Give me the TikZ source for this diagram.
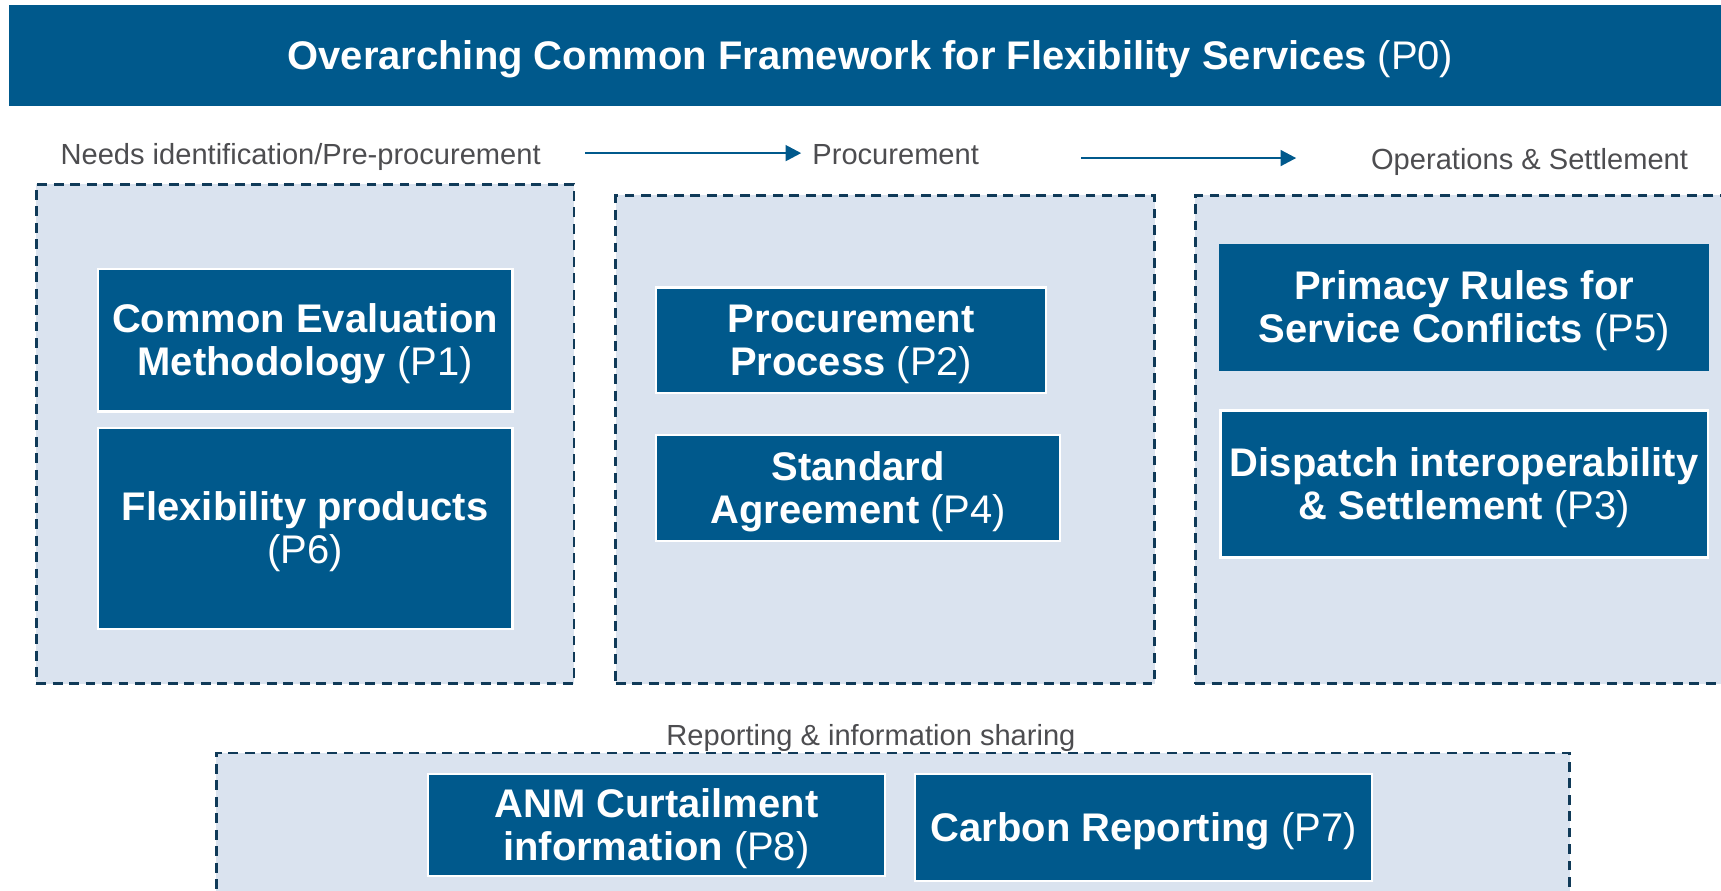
\documentclass[tikz,border=0pt]{standalone}
\usepackage{fontspec}
\setmainfont{Liberation Sans}
\usetikzlibrary{arrows.meta}
\definecolor{dkblue}{RGB}{0,89,140}
\definecolor{lightfill}{RGB}{218,227,239}
\definecolor{navyline}{RGB}{16,58,88}
\definecolor{txtgray}{RGB}{77,77,80}
\newcommand\pcode[1]{{\mdseries(#1)}}
\newcommand\topstrut{\rule{0pt}{0.9em}}
\begin{document}
\begin{tikzpicture}[x=1pt,y=-1pt,
 group/.style={draw=navyline, fill=lightfill, line width=2.5pt, dash pattern=on 9pt off 6pt, inner sep=0pt},
 pbox/.style={draw=white, fill=dkblue, line width=2pt, text=white, align=center, inner sep=0pt, font=\bfseries\fontsize{36.4}{39}\selectfont},
 phase/.style={text=txtgray, inner sep=0pt, anchor=base west, font=\fontsize{26.5}{30}\selectfont},
 flow/.style={draw=dkblue, line width=2.5pt, -{Triangle[length=14.3pt,width=14.3pt]}},
 hdr/.style={fill=dkblue, draw=none, inner sep=0pt},
 hdrtext/.style={text=white, inner sep=0pt, anchor=base, font=\bfseries\fontsize{36.4}{40}\selectfont}
]
\useasboundingbox (0,0) rectangle (1568,811);
\clip (0,0) rectangle (1568,811);

% header
\node[hdr, minimum width=1570pt, minimum height=92pt] (p0) at (793,51) {};
\node[hdrtext] (p0t) at (793,63) {Overarching Common Framework for Flexibility Services \pcode{P0}};

% phase groups
\node[group, minimum width=490pt, minimum height=455pt] (g1) at (278,395.5) {};
\node[group, minimum width=491pt, minimum height=445pt] (g2) at (806.5,400.5) {};
\node[group, minimum width=531pt, minimum height=445pt] (g3) at (1354.5,400.5) {};
\node[group, minimum width=1233pt, minimum height=194pt] (g4) at (813.5,783) {};

% phase labels
\node[phase] (ph1) at (55,149.5) {Needs identification/Pre-procurement};
\node[phase] (ph2) at (740,149.5) {Procurement};
\node[phase] (ph3) at (1249,154) {Operations \& Settlement};
\node[phase] (ph4) at (607,679) {Reporting \& information sharing};

% flow arrows
\coordinate (a1s) at (533,139.5);
\coordinate (a1e) at (730,139.5);
\coordinate (a2s) at (985,144);
\coordinate (a2e) at (1181,144);
\draw[flow] (a1s) -- (a1e);
\draw[flow] (a2s) -- (a2e);

% product boxes
\node[pbox, minimum width=378pt, minimum height=130pt] (p1) at (278,310) {\topstrut Common Evaluation\\Methodology \pcode{P1}};
\node[pbox, minimum width=378pt, minimum height=183pt] (p6) at (278,481.5) {\topstrut Flexibility products\\\pcode{P6}};
\node[pbox, minimum width=355pt, minimum height=96pt] (p2) at (775.5,310) {\topstrut Procurement\\Process \pcode{P2}};
\node[pbox, minimum width=368pt, minimum height=97pt] (p4) at (782,444.5) {\topstrut Standard\\Agreement \pcode{P4}};
\node[pbox, draw=dkblue, minimum width=444pt, minimum height=114pt] (p5) at (1334,280) {\topstrut Primacy Rules for\\Service Conflicts \pcode{P5}};
\node[pbox, minimum width=444pt, minimum height=134pt] (p3) at (1334,441) {\topstrut Dispatch interoperability\\\& Settlement \pcode{P3}};
\node[pbox, minimum width=416pt, minimum height=93pt] (p8) at (598,751.5) {\topstrut ANM Curtailment\\information \pcode{P8}};
\node[pbox, minimum width=416pt, minimum height=98pt] (p7) at (1042,754) {\topstrut Carbon Reporting \pcode{P7}};
\end{tikzpicture}
\end{document}
